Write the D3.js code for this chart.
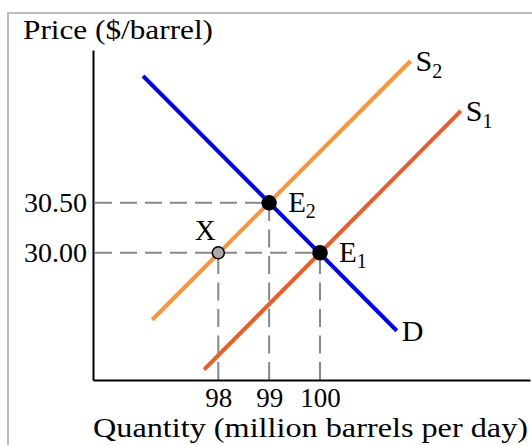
<!DOCTYPE html>
<html>
<head>
<meta charset="utf-8">
<script src="https://cdn.jsdelivr.net/npm/d3@7"></script>
<style>
  html, body { margin: 0; padding: 0; background: #fff; overflow: hidden; }
  text { font-family: "Liberation Serif", "Times New Roman", serif; fill: #000; }
</style>
</head>
<body>
<svg id="viz"></svg>
<script>
const width = 532, height = 445;

// tick values
const qTicks = [98, 99, 100];
const pTicks = [30.00, 30.50];

// curves (quantity, price)
const demand  = [{q: 96.52, p: 31.77}, {q: 101.51, p: 29.22}];
const supply1 = [{q: 97.72, p: 28.83}, {q: 102.77, p: 31.42}];
const supply2 = [{q: 96.70, p: 29.33}, {q: 101.78, p: 31.92}];

// marked points
const points = [
  {name: "E", sub: "2", q: 99,  p: 30.5, fill: "#000"},
  {name: "E", sub: "1", q: 100, p: 30.0, fill: "#000"},
  {name: "X", sub: "",  q: 98,  p: 30.0, fill: "#aaa"}
];

const svg = d3.select("#viz")
  .attr("width", width)
  .attr("height", height);

// light frame
svg.append("rect")
  .attr("x", 8).attr("y", 13)
  .attr("width", 600).attr("height", 500)
  .attr("fill", "none")
  .attr("stroke", "#bbb")
  .attr("stroke-width", 2);

const x = d3.scaleLinear().domain([95.536, 104.13]).range([93, 530]);
const y = d3.scaleLinear().domain([28.727, 32.03]).range([380, 50]);

// guide lines
const guides = svg.append("g")
  .attr("stroke", "#888")
  .attr("stroke-width", 2)
  .attr("stroke-dasharray", "17,8");

guides.selectAll("line.h")
  .data(points.filter(d => d.name === "E"))
  .enter().append("line")
    .attr("x1", x(95.536) + 2).attr("x2", d => x(d.q))
    .attr("y1", d => y(d.p)).attr("y2", d => y(d.p));

guides.selectAll("line.v")
  .data(points)
  .enter().append("line")
    .attr("stroke-dasharray", "18,8.5")
    .attr("x1", d => x(d.q)).attr("x2", d => x(d.q))
    .attr("y1", y(28.727)).attr("y2", d => y(d.p));

// axes
const xAxis = d3.axisBottom(x).tickValues(qTicks).tickSize(0).tickSizeOuter(0).tickPadding(8);
const yAxis = d3.axisLeft(y).tickValues(pTicks).tickSize(0).tickSizeOuter(0).tickPadding(6)
  .tickFormat(d3.format(".2f"));

const gx = svg.append("g").attr("transform", "translate(0," + y(28.727) + ")").call(xAxis);
const gy = svg.append("g").attr("transform", "translate(" + x(95.536) + ",0)").call(yAxis);

[gx, gy].forEach(g => {
  g.select(".domain").attr("stroke", "#000").attr("stroke-width", 2);
  g.selectAll("text")
    .attr("font-family", "Liberation Serif")
    .attr("font-size", 28)
    .attr("fill", "#000");
});
gx.selectAll("text").attr("font-size", 27);

// curves
const line = d3.line().x(d => x(d.q)).y(d => y(d.p));
const curves = [
  {data: demand,  color: "#0000ff", label: "D", sub: ""},
  {data: supply2, color: "#ff9233", label: "S", sub: "2"},
  {data: supply1, color: "#f15a24", label: "S", sub: "1"}
];

svg.selectAll("path.curve")
  .data(curves)
  .enter().append("path")
    .attr("class", "curve")
    .attr("d", d => line(d.data))
    .attr("fill", "none")
    .attr("stroke", d => d.color)
    .attr("stroke-width", 4);

const curveLabels = svg.selectAll("text.clabel")
  .data(curves)
  .enter().append("text")
    .attr("class", "clabel")
    .attr("x", d => x(d.data[1].q) + 5)
    .attr("y", d => y(d.data[1].p) + 10)
    .attr("font-size", 30);
curveLabels.append("tspan").text(d => d.label);
curveLabels.append("tspan").attr("font-size", 20).attr("dy", 7).text(d => d.sub);

// points
svg.selectAll("circle")
  .data(points)
  .enter().append("circle")
    .attr("cx", d => x(d.q))
    .attr("cy", d => y(d.p))
    .attr("r", d => d.name === "X" ? 6 : 7)
    .attr("fill", d => d.fill)
    .attr("stroke", "#000")
    .attr("stroke-width", 1.5);

const ptLabels = svg.selectAll("text.plabel")
  .data(points)
  .enter().append("text")
    .attr("class", "plabel")
    .attr("x", d => d.name === "X" ? x(d.q) - 13 : x(d.q) + 19)
    .attr("y", d => d.name === "X" ? y(d.p) - 13 : y(d.p) + 9)
    .attr("text-anchor", d => d.name === "X" ? "middle" : "start")
    .attr("font-size", 29);
ptLabels.append("tspan").text(d => d.name);
ptLabels.append("tspan").attr("font-size", 20).attr("dy", 6).text(d => d.sub);

// axis titles
svg.append("text")
  .attr("x", 23).attr("y", 39)
  .attr("font-size", 28)
  .attr("textLength", 190)
  .attr("lengthAdjust", "spacingAndGlyphs")
  .text("Price ($/barrel)");

svg.append("text")
  .attr("x", 93).attr("y", 437)
  .attr("font-size", 27)
  .attr("textLength", 435)
  .attr("lengthAdjust", "spacingAndGlyphs")
  .text("Quantity (million barrels per day)");
</script>
</body>
</html>
